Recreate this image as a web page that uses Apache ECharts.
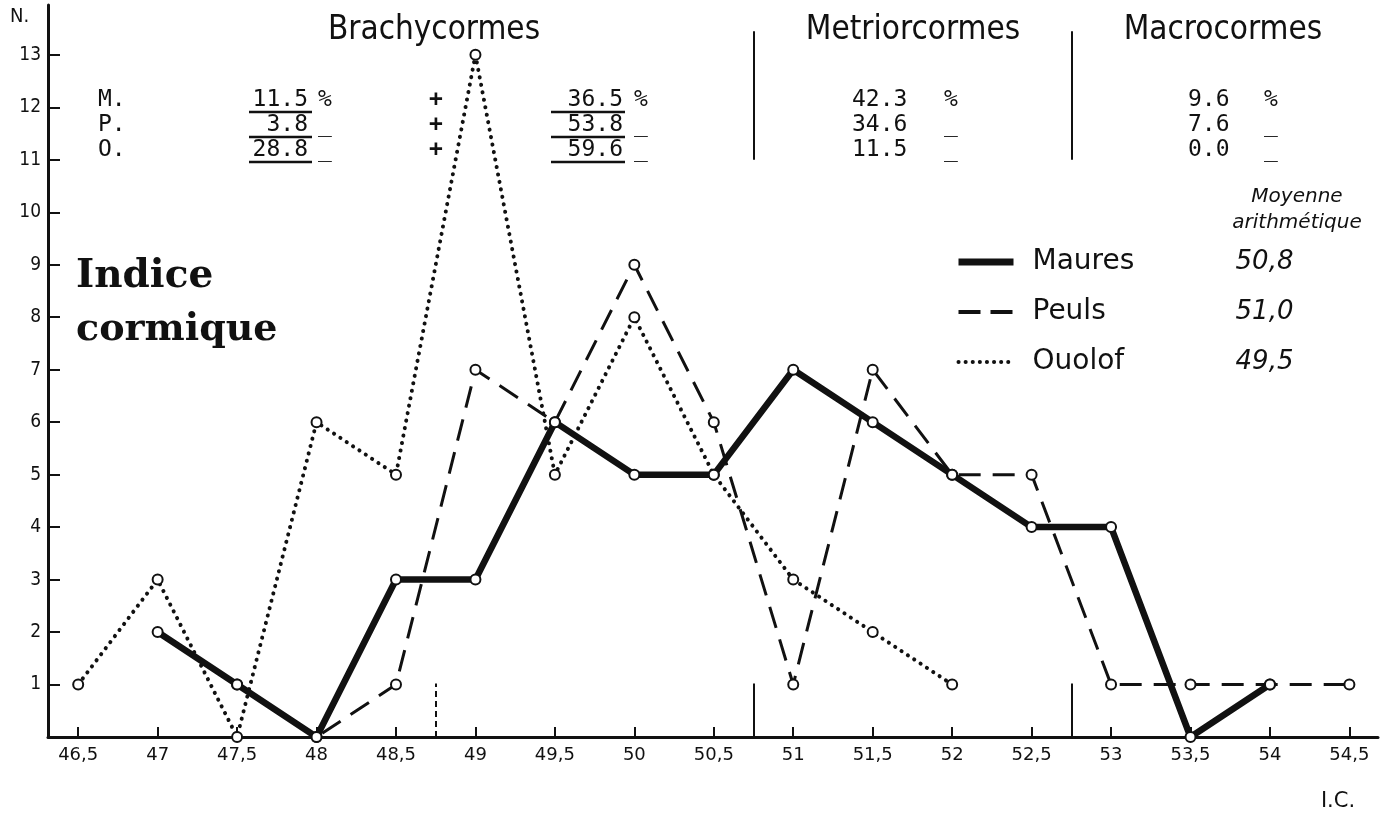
<!DOCTYPE html>
<html><head><meta charset="utf-8">
<script src="https://cdn.jsdelivr.net/npm/echarts@6/dist/echarts.min.js"></script>
<style>html,body{margin:0;padding:0;background:#fff}#c{width:1389px;height:822px}</style>
</head><body><div id="c"></div>
<script>
// ---------- data ----------
const indices = [46.5,47,47.5,48,48.5,49,49.5,50,50.5,51,51.5,52,52.5,53,53.5,54,54.5];
const maures  = [null,2,1,0,3,3,6,5,5,7,6,5,4,4,0,1,null];
const peuls   = [null,null,1,0,1,7,6,9,6,1,7,5,5,1,1,1,1];
const ouolof  = [1,3,0,6,5,13,5,8,5,3,2,1,null,null,null,null,null];
const yTicks  = [1,2,3,4,5,6,7,8,9,10,11,12,13];
const seriesNames = ['Maures','Peuls','Ouolof'];
const means = ['50,8','51,0','49,5'];
const classNames = ['Brachycormes','Metriorcormes','Macrocormes'];
const rowLabels = ['M.','P.','O.'];
const brachyA = ['11.5','3.8','28.8'];
const brachyB = ['36.5','53.8','59.6'];
const metrio  = ['42.3','34.6','11.5'];
const macro   = ['9.6','7.6','0.0'];
const suffixes = ['%','_','_'];
const boundaries = [48.75,50.75,52.75];

// ---------- helpers ----------
const INK = '#111';
const pairs = arr => indices.map((x,i)=>[x,arr[i]]).filter(p=>p[1]!==null);
const narrow = '"Liberation Sans Narrow","DejaVu Sans Condensed","Liberation Sans",sans-serif';
const mono = '"DejaVu Sans Mono","Liberation Mono",monospace';

const chart = echarts.init(document.getElementById('c'), null, {renderer:'canvas'});

const g = [];
const txt = (text,x,y,font,align,extra) => g.push(Object.assign({type:'text',x,y,silent:true,
  style:{text,font,fill:INK,textAlign:align||'left',textVerticalAlign:'middle'}},extra||{}));
const hline = (x1,x2,y,w) => g.push({type:'line',silent:true,shape:{x1,y1:y,x2,y2:y},style:{stroke:INK,lineWidth:w||2}});

// class headings
const headX = [434,913,1223];
classNames.forEach((n,i)=>txt(n,headX[i],30,'33px '+narrow,'center'));
// table
const rowY = [100,125,150];
const tf = '23px '+mono;
rowLabels.forEach((r,i)=>{
  const y=rowY[i];
  txt(r,98,y,tf,'left');
  txt(brachyA[i],308,y,tf,'right'); hline(249,312,y+12,2.5);
  txt(suffixes[i],318,y,tf,'left');
  txt('+',436,y,'bold 23px '+mono,'center');
  txt(brachyB[i],623,y,tf,'right'); hline(551,625,y+12,2.5);
  txt(suffixes[i],634,y,tf,'left');
  txt(metrio[i],852,y,tf,'left');
  txt(suffixes[i],944,y,tf,'left');
  txt(macro[i],1188,y,tf,'left');
  txt(suffixes[i],1264,y,tf,'left');
});
// big title
txt('Indice',76,277,'bold 39px "DejaVu Serif",serif','left');
txt('cormique',76,330,'bold 38px "DejaVu Serif",serif','left');
// legend heading
txt('Moyenne',1297,197,'italic 20px "DejaVu Sans",sans-serif','center');
txt('arithmétique',1297,223,'italic 20px "DejaVu Sans",sans-serif','center');
// axis names
txt('N.',10,17,'20px '+narrow,'left');
txt('I.C.',1338,802,'21px "DejaVu Sans",sans-serif','center');

const boundaryLines = [];
boundaries.forEach((b,i)=>{
  boundaryLines.push([{coord:[b,0],lineStyle:{type:i===0?[6,4]:'solid'}},{coord:[b,1.02]}]);
  if(i>0) boundaryLines.push([{coord:[b,11],lineStyle:{type:'solid'}},{coord:[b,13.45]}]);
});

const baseSeries = {type:'line',symbol:'emptyCircle',symbolSize:10,showSymbol:true,
  itemStyle:{color:INK,borderColor:INK,borderWidth:2.5},emphasis:{disabled:true}};

const legendLine = {Maures:{width:7,type:'solid'},Peuls:{width:4,type:[22,10]},Ouolof:{width:4,type:[0.1,7],cap:'round'}};

const option = {
  animation:false,
  backgroundColor:'#fff',
  grid:{left:48,right:11,top:5,bottom:85,containLabel:false},
  xAxis:{type:'value',min:46.31,max:54.68,
    axisLine:{show:true,onZero:false,lineStyle:{color:INK,width:3}},
    axisTick:{show:true,inside:true,length:10,customValues:indices,lineStyle:{color:INK,width:2}},
    axisLabel:{customValues:indices,margin:9,color:INK,fontSize:18,fontFamily:'"DejaVu Sans",sans-serif',
      formatter:v=>String(v).replace('.',',')},
    splitLine:{show:false}},
  yAxis:{type:'value',min:0,max:13.95,
    axisLine:{show:true,lineStyle:{color:INK,width:3}},
    axisTick:{show:true,inside:true,length:12,customValues:yTicks,lineStyle:{color:INK,width:2}},
    axisLabel:{customValues:yTicks,margin:7,color:INK,fontSize:19,fontFamily:narrow,padding:[0,0,15,0]},
    splitLine:{show:false}},
  legend:{orient:'vertical',left:950,top:243,itemWidth:55,itemHeight:14,itemGap:22,
    selectedMode:false,
    itemStyle:{opacity:0},
    data:seriesNames.map(n=>({name:n,lineStyle:Object.assign({color:INK},legendLine[n])})),
    formatter:name=>'{n|'+name+'}{m|'+means[seriesNames.indexOf(name)]+'}',
    textStyle:{color:INK,rich:{
      n:{fontSize:28,fontFamily:'"DejaVu Sans",sans-serif',width:192,padding:[0,0,0,14],lineHeight:30},
      m:{fontSize:26,fontStyle:'italic',fontFamily:'"DejaVu Sans",sans-serif',width:80,align:'center',lineHeight:30}}}},
  series:[
    Object.assign({},baseSeries,{name:'Ouolof',data:pairs(ouolof),z:2,
      lineStyle:{color:INK,width:4,type:[0.1,7.5],cap:'round'}}),
    Object.assign({},baseSeries,{name:'Peuls',data:pairs(peuls),z:3,
      lineStyle:{color:INK,width:3,type:[22,12]},
      markLine:{silent:true,symbol:['none','none'],label:{show:false},
        lineStyle:{color:INK,width:2},data:boundaryLines}}),
    Object.assign({},baseSeries,{name:'Maures',data:pairs(maures),z:4,
      lineStyle:{color:INK,width:6.5}})
  ],
  graphic:g
};
chart.setOption(option);
</script></body></html>
